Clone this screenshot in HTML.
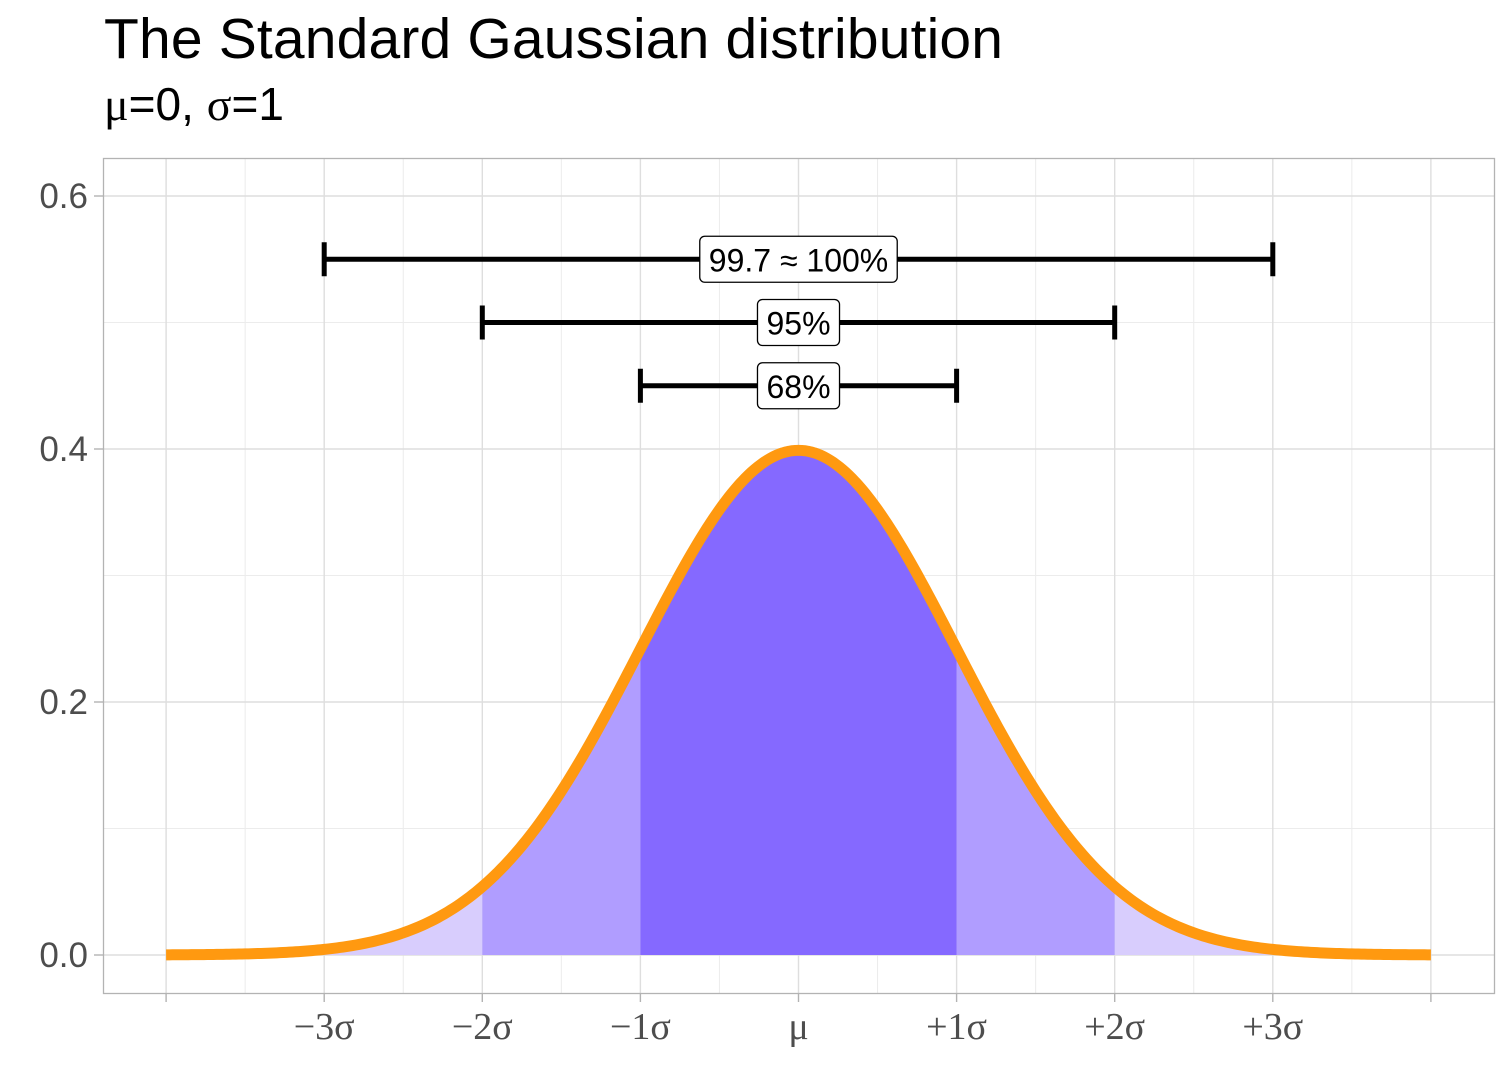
<!DOCTYPE html>
<html><head><meta charset="utf-8"><style>
body{margin:0;background:#fff;}
svg{display:block;font-family:"Liberation Sans",sans-serif;}
</style></head><body>
<svg id="chart" width="1512" height="1080">
<text x="104" y="58" font-size="57" fill="#000" textLength="899">The Standard Gaussian distribution</text>
<text x="104" y="120" font-size="46" fill="#000" font-family="Liberation Serif,serif">μ<tspan font-family="Liberation Sans,sans-serif">=0, </tspan>σ<tspan font-family="Liberation Sans,sans-serif">=1</tspan></text>
<g id="grid"></g>
<g id="areas"></g>
<g id="curve"></g>
<g id="bars"></g>
<g id="axes"></g>
<rect x="103.5" y="158.5" width="1391" height="835" fill="none" stroke="#b3b3b3" stroke-width="1.3"/>
</svg>
<script>
const mu = 0;
const sigma = 1;
const xTickValues = [-4,-3,-2,-1,0,1,2,3,4];
const xTickLabels = ['', '−3σ','−2σ','−1σ','μ','+1σ','+2σ','+3σ',''];
const yTickValues = [0,0.2,0.4,0.6];
const yTickLabels = ['0.0','0.2','0.4','0.6'];
const yMinor = [0.1,0.3,0.5];
const bandLimits = [3,2,1];
const bandColors = ['#d8cdfd','#b09dff','#8569ff'];
const intervalLevels = [0.55,0.5,0.45];
const intervalHalfWidths = [3,2,1];
const intervalLabels = ['99.7 ≈ 100%','95%','68%'];
const xDomain = [-4,4];

const NS='http://www.w3.org/2000/svg';
const X = v => 798.5 + (v-0)*158.1;
const Y = v => 955 - v*1265;
const dens = x => Math.exp(-0.5*((x-mu)/sigma)**2)/(sigma*Math.sqrt(2*Math.PI));
function mk(tag, attrs, parent){const e=document.createElementNS(NS,tag);for(const k in attrs)e.setAttribute(k,attrs[k]);document.getElementById(parent).appendChild(e);return e;}

for(let i=0;i<xTickValues.length-1;i++){
  const m=(xTickValues[i]+xTickValues[i+1])/2;
  const g=mk('line',{x1:X(m),x2:X(m),y1:158,y2:993,stroke:'#ececec','stroke-width':1},'grid');
  
  
}
yMinor.forEach(v=>{
  const g=mk('line',{x1:103,x2:1494,y1:Y(v),y2:Y(v),stroke:'#ececec','stroke-width':1},'grid');
  
  
});
xTickValues.forEach(v=>{
  const g=mk('line',{x1:X(v),x2:X(v),y1:158,y2:993,stroke:'#dedede','stroke-width':1.4},'grid');
  
  
});
yTickValues.forEach(v=>{
  const g=mk('line',{x1:103,x2:1494,y1:Y(v),y2:Y(v),stroke:'#dedede','stroke-width':1.4},'grid');
  
  
});

function areaPath(a,b){let d=`M${X(a)},${Y(0)}`;const n=120;for(let i=0;i<=n;i++){const x=a+(b-a)*i/n;d+=`L${X(x)},${Y(dens(x))}`;}d+=`L${X(b)},${Y(0)}Z`;return d;}
const outer=[[xDomain[0],-bandLimits[0]],[-bandLimits[0],-bandLimits[1]],[bandLimits[1],bandLimits[0]],[bandLimits[0],xDomain[1]]];
outer.forEach(r=>{const p=mk('path',{d:areaPath(r[0],r[1]),fill:bandColors[0]},'areas');
  });
[[-bandLimits[1],-bandLimits[2]],[bandLimits[2],bandLimits[1]]].forEach(r=>{const p=mk('path',{d:areaPath(r[0],r[1]),fill:bandColors[1]},'areas');
  });
{const p=mk('path',{d:areaPath(-bandLimits[2],bandLimits[2]),fill:bandColors[2]},'areas');
  }

{let d='';const n=400;for(let i=0;i<=n;i++){const x=xDomain[0]+(xDomain[1]-xDomain[0])*i/n;d+=(i?'L':'M')+X(x)+','+Y(dens(x));}
const c=mk('path',{d:d,fill:'none',stroke:'#ff9910','stroke-width':11,'stroke-linejoin':'round','stroke-linecap':'butt'},'curve');
}

intervalLevels.forEach((lv,i)=>{
  const y=Y(lv),x1=X(mu-intervalHalfWidths[i]*sigma),x2=X(mu+intervalHalfWidths[i]*sigma);
  const l=mk('path',{d:`M${x1},${y}H${x2}M${x1},${y-17}V${y+17}M${x2},${y-17}V${y+17}`,stroke:'#000','stroke-width':5,fill:'none'},'bars');
  
  const t=mk('text',{x:X(mu),y:y+12,'font-size':32,'text-anchor':'middle',fill:'#000'},'bars');
  t.textContent=intervalLabels[i];
  const w=t.getComputedTextLength()+18;
  const r=mk('rect',{x:X(mu)-w/2,y:y-23,width:w,height:46,rx:5,fill:'#fff',stroke:'#000','stroke-width':1.3},'bars');
  
  document.getElementById('bars').appendChild(t);
  
});

xTickValues.forEach((v,i)=>{
  const tk=mk('line',{x1:X(v),x2:X(v),y1:993,y2:1002,stroke:'#b3b3b3','stroke-width':1.4},'axes');
  
  if(xTickLabels[i]){const t=mk('text',{x:X(v),y:1039,'font-size':38,'text-anchor':'middle',fill:'#4d4d4d','font-family':'Liberation Serif,serif'},'axes');
  t.textContent=xTickLabels[i];}
});
yTickValues.forEach((v,i)=>{
  const tk=mk('line',{x1:94,x2:103,y1:Y(v),y2:Y(v),stroke:'#b3b3b3','stroke-width':1.4},'axes');
  
  const t=mk('text',{x:88,y:Y(v)+12,'font-size':35,'text-anchor':'end',fill:'#4d4d4d'},'axes');
  t.textContent=yTickLabels[i];
});
</script>
</body></html>
